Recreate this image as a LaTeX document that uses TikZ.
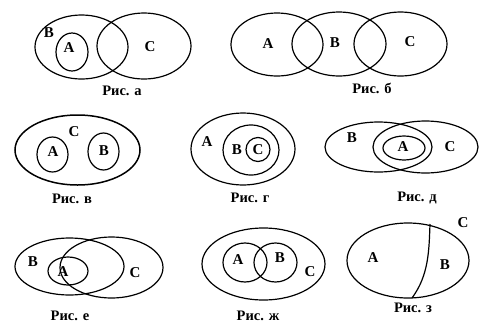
\documentclass[tikz,border=0pt]{standalone}
\usepackage{fontspec}
\setmainfont{Liberation Serif}
\begin{document}
\begin{tikzpicture}[x=1pt,y=-1pt,
  set/.style={line width=1.2pt},
  thick set/.style={line width=1.5pt},
  lbl/.style={font=\fontsize{15}{15}\selectfont\bfseries, inner sep=0pt},
  figcap/.style={font=\fontsize{14.5}{14.5}\selectfont\bfseries, inner sep=0pt}]
\useasboundingbox (0,0) rectangle (491,325);
% Рис. а
\draw[set] (81.5,47) ellipse [x radius=46.5, y radius=32];
\draw[set] (144,46) ellipse [x radius=47, y radius=33];
\draw[set] (72,52) ellipse [x radius=16, y radius=19];
\node[lbl] (aB) at (49,33) {B};
\node[lbl] (aA) at (69,48) {A};
\node[lbl] (aC) at (150,47) {C};
\node[figcap] (capa) at (122,91) {Рис. а};
% Рис. б
\draw[set] (277,44.5) ellipse [x radius=46, y radius=31.5];
\draw[set] (339,44) ellipse [x radius=47, y radius=32];
\draw[set] (400.5,44) ellipse [x radius=46.5, y radius=32];
\node[lbl] (bA) at (268,44) {A};
\node[lbl] (bB) at (335,43) {B};
\node[lbl] (bC) at (410,42) {C};
\node[figcap] (capb) at (372,88) {Рис. б};
% Рис. в
\draw[thick set] (77.5,150) ellipse [x radius=62.5, y radius=35];
\draw[set] (52.5,154.5) ellipse [x radius=15.5, y radius=17.5];
\draw[set] (103.5,151.5) ellipse [x radius=15.5, y radius=18.5];
\node[lbl] (vC) at (74,132) {C};
\node[lbl] (vA) at (53,152) {A};
\node[lbl] (vB) at (104,151) {B};
\node[figcap] (capv) at (72,199) {Рис. в};
% Рис. г
\draw[set] (243,149) ellipse [x radius=52, y radius=36];
\draw[set] (251,150) ellipse [x radius=28, y radius=25];
\draw[set] (258,149.5) circle [radius=12];
\node[lbl] (gA) at (207,142) {A};
\node[lbl] (gB) at (237,150) {B};
\node[lbl] (gC) at (258,150) {C};
\node[figcap] (capg) at (250,198) {Рис. г};
% Рис. д
\draw[set] (378.5,147) ellipse [x radius=53.5, y radius=25];
\draw[set] (425.5,147) ellipse [x radius=52.5, y radius=26];
\draw[set] (404,148) ellipse [x radius=21, y radius=12];
\node[lbl] (dB) at (352,138) {B};
\node[lbl] (dA) at (403,147) {A};
\node[lbl] (dC) at (450,147) {C};
\node[figcap] (capd) at (417,198) {Рис. д};
% Рис. е
\draw[set] (69.5,266.5) ellipse [x radius=54.5, y radius=28.5];
\draw[set] (111.5,267.5) ellipse [x radius=51.5, y radius=30.5];
\draw[set] (68,271) ellipse [x radius=20, y radius=14];
\node[lbl] (eB) at (33,262) {B};
\node[lbl] (eA) at (63,272) {A};
\node[lbl] (eC) at (135,273) {C};
\node[figcap] (cape) at (70,316) {Рис. е};
% Рис. ж
\draw[set] (263.5,264) ellipse [x radius=61.5, y radius=36];
\draw[set] (245,262.5) ellipse [x radius=22, y radius=19.5];
\draw[set] (275.5,262.5) ellipse [x radius=21.5, y radius=19.5];
\node[lbl] (zhA) at (238,260) {A};
\node[lbl] (zhB) at (280,258) {B};
\node[lbl] (zhC) at (310,272) {C};
\node[figcap] (capzh) at (258,316) {Рис. ж};
% Рис. з
\draw[set] (408,260.5) ellipse [x radius=61, y radius=37.5];
\draw[set] (430,224) .. controls (429,250) and (429,275) .. (412,298);
\node[lbl] (zA) at (373,258) {A};
\node[lbl] (zB) at (445,265) {B};
\node[lbl] (zC) at (463,223) {C};
\node[figcap] (capz) at (413,308) {Рис. з};
\end{tikzpicture}
\end{document}
